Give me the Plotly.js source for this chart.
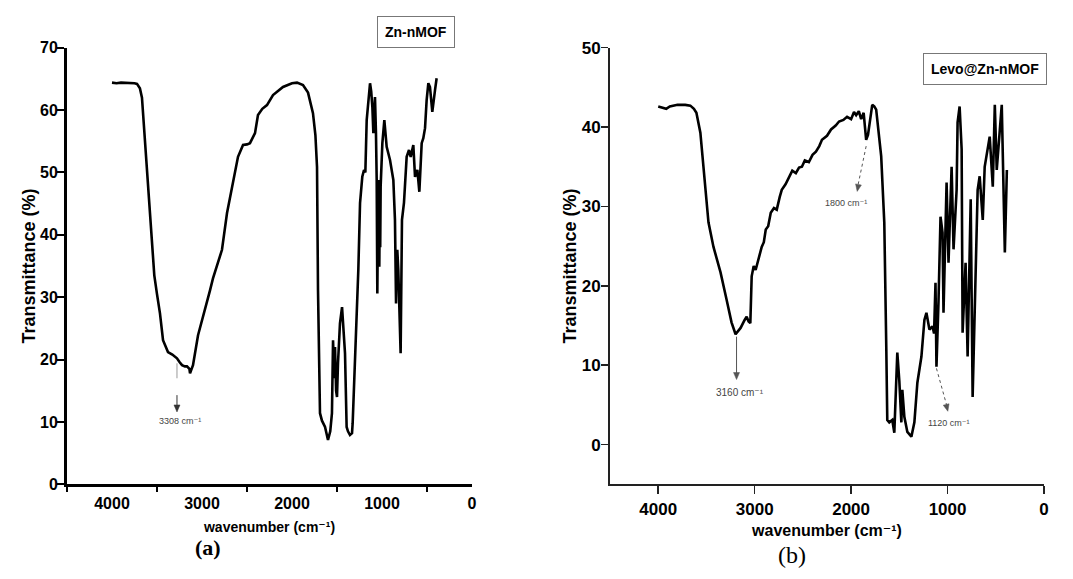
<!DOCTYPE html>
<html>
<head>
<meta charset="utf-8">
<script src="https://cdn.plot.ly/plotly-3.0.1.min.js"></script>
<style>html,body{margin:0;padding:0;background:#fff}#chart{width:1073px;height:579px}</style>
</head>
<body>
<div id="chart"></div>
<script>
// Panel (a): Zn-nMOF
const aWavenumber = [4000, 3950, 3900, 3850, 3800, 3750, 3722, 3690, 3667, 3650, 3611, 3580, 3556, 3530, 3500, 3467, 3433, 3400, 3378, 3330, 3278, 3250, 3222, 3190, 3167, 3140, 3133, 3120, 3100, 3044, 2967, 2911, 2878, 2822, 2778, 2722, 2667, 2600, 2544, 2500, 2467, 2411, 2378, 2330, 2278, 2211, 2100, 2000, 1944, 1878, 1822, 1767, 1740, 1722, 1711, 1700, 1689, 1667, 1633, 1600, 1575, 1556, 1544, 1530, 1522, 1510, 1500, 1489, 1467, 1444, 1437, 1411, 1393, 1378, 1356, 1333, 1326, 1311, 1300, 1263, 1244, 1219, 1200, 1185, 1170, 1150, 1133, 1120, 1107, 1096, 1078, 1067, 1059, 1052, 1046, 1041, 1035, 1030, 1025, 1020, 1015, 996, 974, 948, 911, 874, 856, 844, 837, 830, 819, 807, 793, 778, 756, 726, 700, 681, 652, 633, 607, 585, 559, 541, 522, 504, 485, 467, 441, 411, 393];
const aTransmittance = [64.4, 64.3, 64.4, 64.4, 64.3, 64.3, 64.2, 63.5, 62.0, 58.5, 50.9, 45.0, 40.3, 33.5, 30.5, 27.4, 23.1, 21.8, 21.2, 20.8, 20.2, 19.6, 19.1, 18.9, 18.9, 18.5, 17.8, 18.3, 19.1, 23.9, 27.9, 31.1, 33.0, 35.5, 37.6, 43.5, 47.7, 52.5, 54.4, 54.5, 54.7, 56.3, 59.2, 60.2, 60.8, 62.4, 63.7, 64.3, 64.4, 64.0, 62.8, 59.5, 56.0, 50.9, 31.1, 18.0, 11.4, 10.2, 9.2, 7.1, 8.5, 11.4, 23.1, 17.0, 22.0, 15.0, 14.0, 19.4, 25.8, 28.4, 27.0, 21.0, 9.2, 8.5, 7.9, 8.2, 9.8, 15.1, 21.0, 34.4, 45.1, 49.3, 50.4, 50.0, 58.4, 62.5, 64.3, 63.0, 60.5, 56.3, 62.1, 56.3, 48.8, 30.6, 45.0, 48.8, 36.0, 34.9, 44.0, 38.0, 47.7, 54.7, 58.4, 54.1, 52.0, 48.8, 42.4, 29.0, 36.0, 37.6, 34.4, 29.0, 21.0, 42.4, 45.1, 52.5, 53.6, 52.5, 54.4, 49.3, 50.4, 46.9, 54.7, 55.5, 57.1, 61.6, 64.3, 63.7, 59.7, 63.2, 65.1];

// Panel (b): Levo@Zn-nMOF
const bWavenumber = [4000, 3960, 3917, 3880, 3800, 3720, 3667, 3630, 3604, 3563, 3531, 3500, 3479, 3427, 3354, 3292, 3240, 3198, 3170, 3146, 3104, 3083, 3063, 3045, 3031, 3010, 2990, 2958, 2927, 2905, 2885, 2860, 2833, 2800, 2771, 2740, 2719, 2680, 2646, 2610, 2573, 2540, 2510, 2480, 2438, 2400, 2365, 2330, 2302, 2250, 2208, 2160, 2125, 2080, 2042, 2000, 1970, 1948, 1920, 1896, 1870, 1844, 1825, 1813, 1781, 1760, 1740, 1688, 1656, 1635, 1625, 1604, 1573, 1552, 1521, 1500, 1479, 1469, 1448, 1417, 1375, 1344, 1313, 1271, 1240, 1219, 1188, 1156, 1140, 1125, 1115, 1094, 1073, 1052, 1042, 1010, 990, 958, 938, 906, 896, 875, 854, 844, 813, 792, 760, 740, 708, 688, 667, 635, 615, 594, 563, 531, 510, 490, 458, 438, 406, 385];
const bTransmittance = [42.6, 42.5, 42.3, 42.6, 42.8, 42.8, 42.7, 42.3, 41.8, 39.3, 35.0, 30.0, 28.0, 24.9, 21.7, 18.3, 15.4, 13.9, 14.4, 14.7, 15.7, 16.1, 15.5, 15.3, 21.2, 22.5, 22.0, 23.6, 24.9, 25.5, 27.1, 27.5, 29.2, 29.8, 29.6, 31.2, 32.1, 32.8, 33.6, 34.5, 34.2, 34.9, 35.0, 35.8, 35.6, 36.5, 36.9, 37.6, 38.4, 38.9, 39.7, 40.2, 40.7, 40.9, 41.3, 41.0, 41.9, 41.5, 42.0, 41.0, 41.8, 38.4, 39.0, 40.2, 42.8, 42.6, 42.2, 36.3, 28.0, 12.0, 3.1, 2.8, 3.1, 1.5, 11.6, 8.0, 2.8, 6.9, 3.5, 1.6, 1.0, 2.8, 7.8, 11.1, 15.7, 16.6, 14.5, 14.9, 14.0, 20.4, 9.8, 18.0, 28.7, 26.7, 16.6, 33.0, 22.9, 35.0, 24.6, 32.1, 40.6, 42.6, 37.2, 14.1, 22.9, 11.1, 30.9, 6.0, 21.7, 32.1, 33.8, 28.3, 35.0, 36.8, 38.8, 32.5, 42.8, 34.6, 39.0, 42.8, 24.2, 34.6];

const xTickVals = [4000, 3000, 2000, 1000, 0];
const xTickText = ['4000', '3000', '2000', '1000', '0'];
const aYTickVals = [0, 10, 20, 30, 40, 50, 60, 70];
const bYTickVals = [0, 10, 20, 30, 40, 50];

const SANS = '"Liberation Sans", Arial, "DejaVu Sans", sans-serif';
const SERIF = '"Liberation Serif", "Times New Roman", serif';

const traces = [
  {x: aWavenumber, y: aTransmittance, type: 'scatter', mode: 'lines', xaxis: 'x', yaxis: 'y',
   line: {color: '#000', width: 2.6}, hoverinfo: 'skip', showlegend: false},
  {x: bWavenumber, y: bTransmittance, type: 'scatter', mode: 'lines', xaxis: 'x2', yaxis: 'y2',
   line: {color: '#000', width: 2.6}, hoverinfo: 'skip', showlegend: false}
];

const tickFontA = {family: SANS, size: 16, color: '#000', weight: 'bold'};
const tickFontB = {family: SANS, size: 17, color: '#000', weight: 'bold'};

function arrowHead(xref, yref, x, y, path, color) {
  return {type: 'path', xref: xref, yref: yref, xsizemode: 'pixel', ysizemode: 'pixel',
          xanchor: x, yanchor: y, path: path, fillcolor: color, line: {color: color, width: 0.5}};
}

const layout = {
  width: 1073, height: 579,
  margin: {l: 0, r: 0, t: 0, b: 0},
  paper_bgcolor: '#fff', plot_bgcolor: 'rgba(0,0,0,0)',
  showlegend: false,
  xaxis: {
    domain: [67/1073, 472/1073], anchor: 'y', range: [4500, 0],
    tickmode: 'array', tickvals: xTickVals, ticktext: xTickText,
    ticks: 'outside', ticklen: 0, tickcolor: '#000',
    minor: {tickmode: 'linear', tick0: 500, dtick: 1000, ticks: 'outside', ticklen: 5, tickwidth: 2, tickcolor: '#000', showgrid: false},
    showline: true, linecolor: '#000', linewidth: 3, showgrid: false, zeroline: false,
    tickfont: tickFontA, ticklabelstandoff: 2,
    title: {text: 'wavenumber (cm⁻¹)', font: {family: SANS, size: 14, color: '#000', weight: 'bold'}, standoff: 12}
  },
  yaxis: {
    domain: [1 - 484.3/579, 1 - 47.7/579], anchor: 'x', range: [0, 70],
    tickmode: 'array', tickvals: aYTickVals,
    ticks: 'outside', ticklen: 7, tickwidth: 2, tickcolor: '#000',
    showline: true, linecolor: '#000', linewidth: 3, showgrid: false, zeroline: false,
    tickfont: tickFontA, ticklabelstandoff: -4,
    title: {text: 'Transmittance (%)', font: {family: SANS, size: 18, color: '#000', weight: 'bold'}, standoff: 0}
  },
  xaxis2: {
    domain: [610/1073, 1044/1073], anchor: 'y2', range: [4500, 0],
    tickmode: 'array', tickvals: xTickVals, ticktext: xTickText,
    ticks: 'outside', ticklen: 8, tickwidth: 1.5, tickcolor: '#222',
    showline: true, linecolor: '#222', linewidth: 2, showgrid: false, zeroline: false,
    tickfont: tickFontB, ticklabelstandoff: 0,
    title: {text: 'wavenumber (cm⁻¹)', font: {family: SANS, size: 16, color: '#000', weight: 'bold'}, standoff: 7}
  },
  yaxis2: {
    domain: [1 - 484.3/579, 1 - 47.7/579], anchor: 'x2', range: [-5, 50],
    tickmode: 'array', tickvals: bYTickVals,
    ticks: 'outside', ticklen: 7, tickwidth: 1.5, tickcolor: '#222',
    showline: true, linecolor: '#222', linewidth: 2, showgrid: false, zeroline: false,
    tickfont: tickFontB, ticklabelstandoff: -3,
    title: {text: 'Transmittance (%)', font: {family: SANS, size: 18, color: '#000', weight: 'bold'}, standoff: 0}
  },
  shapes: [
    {type: 'line', xref: 'x', yref: 'y', x0: 3278, x1: 3278, y0: 19.4, y1: 17.0, line: {color: '#999', width: 1}},
    {type: 'line', xref: 'x', yref: 'y', x0: 3278, x1: 3278, y0: 14.3, y1: 12.5, line: {color: '#333', width: 1}},
    arrowHead('x', 'y', 3278, 11.6, 'M0,0 L-3,7 L3,7 Z', '#333'),
    {type: 'line', xref: 'x2', yref: 'y2', x0: 3188, x1: 3188, y0: 13.6, y1: 9.0, line: {color: '#555', width: 1}},
    arrowHead('x2', 'y2', 3188, 8.2, 'M0,0 L-3,7 L3,7 Z', '#555'),
    {type: 'line', xref: 'x2', yref: 'y2', x0: 1844, y0: 37.6, x1: 1930, y1: 32.6, line: {color: '#555', width: 1, dash: 'dot'}},
    arrowHead('x2', 'y2', 1937, 31.9, 'M0,0 L4.2,6.3 L-1.6,7.5 Z', '#555'),
    {type: 'line', xref: 'x2', yref: 'y2', x0: 1115, y0: 9.6, x1: 1010, y1: 5.0, line: {color: '#555', width: 1, dash: 'dot'}},
    arrowHead('x2', 'y2', 997, 4.2, 'M0,0 L1.2,7.5 L-4.6,6.1 Z', '#555')
  ],
  annotations: [
    {xref: 'paper', yref: 'paper', x: 416/1073, y: 1 - 32/579, xanchor: 'center', yanchor: 'middle',
     text: '<b>Zn-nMOF</b>', showarrow: false, font: {family: SANS, size: 14, color: '#000'},
     bordercolor: '#777', borderwidth: 1, borderpad: 7, bgcolor: '#fff'},
    {xref: 'paper', yref: 'paper', x: 985/1073, y: 1 - 69/579, xanchor: 'center', yanchor: 'middle',
     text: '<b>Levo@Zn-nMOF</b>', showarrow: false, font: {family: SANS, size: 14, color: '#000'},
     bordercolor: '#777', borderwidth: 1, borderpad: 7, bgcolor: '#fff'},
    {xref: 'paper', yref: 'paper', x: 208/1073, y: 1 - 547/579, xanchor: 'center', yanchor: 'middle',
     text: '<b>(a)</b>', showarrow: false, font: {family: SERIF, size: 22, color: '#000'}},
    {xref: 'paper', yref: 'paper', x: 792/1073, y: 1 - 555/579, xanchor: 'center', yanchor: 'middle',
     text: '(b)', showarrow: false, font: {family: SERIF, size: 24, color: '#000'}},
    {xref: 'x', yref: 'y', x: 3244, y: 10.1, text: '3308 cm⁻¹', showarrow: false,
     font: {family: SANS, size: 9, color: '#444'}},
    {xref: 'x2', yref: 'y2', x: 3150, y: 6.6, text: '3160 cm⁻¹', showarrow: false,
     font: {family: SANS, size: 10, color: '#444'}},
    {xref: 'x2', yref: 'y2', x: 2055, y: 30.4, text: '1800 cm⁻¹', showarrow: false,
     font: {family: SANS, size: 9, color: '#444'}},
    {xref: 'x2', yref: 'y2', x: 980, y: 2.7, text: '1120 cm⁻¹', showarrow: false,
     font: {family: SANS, size: 9, color: '#444'}}
  ]
};

Plotly.newPlot('chart', traces, layout, {staticPlot: true, displayModeBar: false});
</script>
</body>
</html>
